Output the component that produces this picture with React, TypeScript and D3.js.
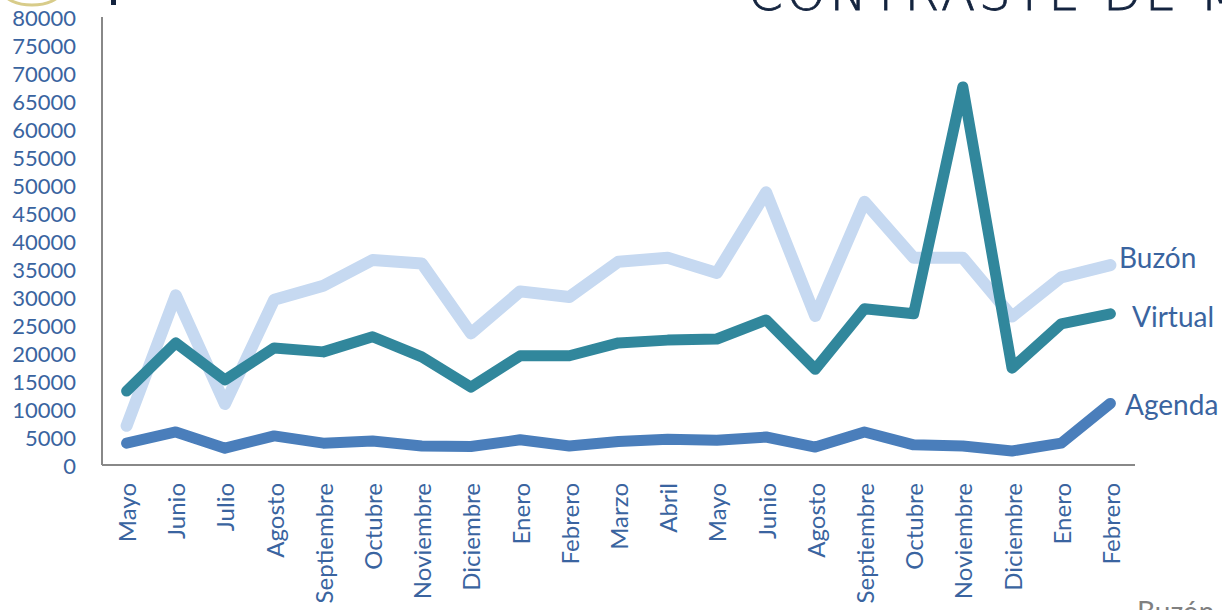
import React from "react";
import * as d3 from "d3";

const months = ["Mayo","Junio","Julio","Agosto","Septiembre","Octubre","Noviembre","Diciembre","Enero","Febrero","Marzo","Abril","Mayo","Junio","Agosto","Septiembre","Octubre","Noviembre","Diciembre","Enero","Febrero"];
const buzon = [7000,30300,10900,29500,32000,36600,36000,23500,31000,30000,36300,37000,34300,48700,26600,47000,37000,37000,26500,33500,35700];
const virtual = [13200,21800,15200,20900,20200,22900,19300,13900,19500,19500,21800,22300,22500,25900,17100,27900,27000,67500,17300,25200,27000];
const agenda = [3900,5900,3000,5200,3900,4300,3400,3300,4500,3400,4200,4600,4400,5000,3200,5900,3600,3400,2500,3900,11000];
const yTicks = d3.range(0, 80001, 5000);

const W = 1222, H = 610;
const left = 102, right = 1135, top = 17, bottom = 465;
const font = "Lato, 'Noto Sans', sans-serif";
const textColor = "#3A64A0";

export default function App() {
  const x = d3.scaleBand<number>().domain(months.map((_, i) => i)).range([left, right]);
  const cx = (i: number) => (x(i) as number) + x.bandwidth() / 2;
  const y = d3.scaleLinear().domain([0, 80000]).range([bottom, top]);
  const line = d3.line<number>().x((_, i) => cx(i)).y((d) => y(d));
  const series = [
    { name: "Buzón", data: buzon, color: "#C6D9F1", w: 12, lx: 1119, ly: 257 },
    { name: "Virtual", data: virtual, color: "#31879C", w: 11, lx: 1132, ly: 316 },
    { name: "Agenda", data: agenda, color: "#4A7EBB", w: 11, lx: 1125, ly: 404 },
  ];
  return (
    <svg width={W} height={H} style={{ position: "absolute", left: 0, top: 0, background: "#fff", overflow: "hidden" }}>
      <ellipse cx={32} cy={-8} rx={28} ry={13} fill="#fff" stroke="#D8CC8A" strokeWidth={3} />
      <rect x={111} y={0} width={5} height={5} fill="#14243F" />
      <text x={748} y={10} fontFamily="'DejaVu Sans', sans-serif" fontWeight={200} fontSize={50} fill="#14243F" stroke="#14243F" strokeWidth={0.8} letterSpacing={3.6}>CONTRASTE DE MONTOS</text>
      {yTicks.map((t) => (
        <text key={t} x={76} y={y(t)} textAnchor="end" dominantBaseline="central" fontFamily={font} fontSize={22} fill={textColor}>{t}</text>
      ))}
      <line x1={left} y1={top} x2={left} y2={bottom} stroke="#888" strokeWidth={2} />
      <line x1={left} y1={bottom} x2={right} y2={bottom} stroke="#888" strokeWidth={2} />
      {months.map((m, i) => (
        <text key={i} transform={`translate(${cx(i)},483) rotate(-90)`} textAnchor="end" dominantBaseline="central" fontFamily={font} fontSize={24} fill={textColor}>{m}</text>
      ))}
      {series.map((s) => (
        <path key={s.name} d={line(s.data) as string} fill="none" stroke={s.color} strokeWidth={s.w} strokeLinejoin="round" strokeLinecap="round" />
      ))}
      {series.map((s) => (
        <text key={s.name + "l"} x={s.lx} y={s.ly} dominantBaseline="central" fontFamily={font} fontSize={28} fill={textColor}>{s.name}</text>
      ))}
      <text x={1137} y={622} fontFamily={font} fontSize={28} fill="#808080">Buzón</text>
    </svg>
  );
}
